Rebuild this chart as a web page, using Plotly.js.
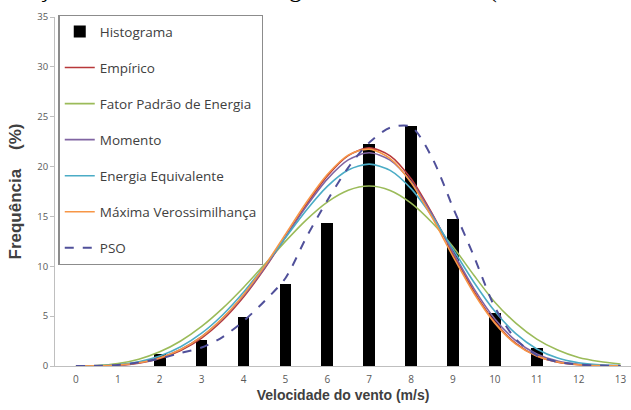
<!DOCTYPE html>
<html>
<head>
<meta charset="utf-8">
<script src="https://cdn.plot.ly/plotly-3.0.1.min.js"></script>
<style>
html,body{margin:0;padding:0;background:#fff;}
#chart{width:631px;height:410px;}
</style>
</head>
<body>
<div id="chart"></div>
<script>
// Wind speed categories (m/s)
const speeds = [0,1,2,3,4,5,6,7,8,9,10,11,12,13];
// Histogram frequencies (%)
const histograma = [0,0,1.2,2.6,4.9,8.2,14.3,22.3,24.1,14.7,5.3,1.8,0,0];

// Curve sample positions (m/s)
const xc = [0,0.5,1,1.5,2,2.5,3,3.5,4,4.5,5,5.5,6,6.5,7,7.5,8,8.5,9,9.5,10,10.5,11,11.5,12,12.5,13];
// Fitted distributions (%)
const empirico = [0,0.01,0.08,0.29,0.75,1.56,2.81,4.59,6.92,9.75,12.93,16.17,19.05,21.1,21.87,21.08,18.77,15.3,11.31,7.49,4.4,2.26,1.0,0.38,0.12,0.03,0.01];
const fatorPadrao = [0,0.04,0.24,0.68,1.42,2.51,3.97,5.78,7.88,10.17,12.5,14.66,16.44,17.63,18.05,17.61,16.34,14.39,11.97,9.1,6.4,4.3,2.7,1.6,0.85,0.45,0.2];
const momento = [0,0.01,0.09,0.33,0.82,1.67,2.95,4.75,7.06,9.83,12.91,16.01,18.74,20.67,21.38,20.64,18.48,15.22,11.43,7.76,4.72,2.55,1.21,0.51,0.18,0.06,0.02];
const energiaEquiv = [0,0.02,0.13,0.42,1.0,1.93,3.29,5.12,7.39,10.03,12.86,15.63,18.02,19.66,20.25,19.62,17.79,15.02,11.72,8.4,5.48,3.24,1.71,0.8,0.33,0.12,0.04];
const maxVeross = [0,0.01,0.09,0.32,0.8,1.65,2.95,4.8,7.15,10.0,13.2,16.4,19.2,21.15,21.75,20.8,18.4,14.9,11.0,7.3,4.3,2.2,1.0,0.4,0.13,0.04,0.01];
const pso = [0,0.02,0.1,0.35,0.75,1.3,1.85,2.9,4.5,6.5,8.8,12.9,16.6,19.9,22.4,23.9,24.0,20.9,15.9,11.0,5.9,2.7,1.1,0.4,0.15,0.05,0.01];

const seriesNames = ['Histograma','Empírico','Fator Padrão de Energia','Momento','Energia Equivalente','Máxima Verossimilhança','PSO'];
const curveData = [empirico, fatorPadrao, momento, energiaEquiv, maxVeross, pso];
const curveColors = ['#B8383A','#9BBB59','#8064A2','#4BACC6','#F79646','#50509A'];
const curveDash = ['solid','solid','solid','solid','solid','dash'];

const traces = [{
  type:'bar', x:speeds, y:histograma, name:seriesNames[0],
  width:0.28, marker:{color:'#000000'}, legendgroup:'g0'
}];
curveData.forEach((d,i)=>{
  traces.push({
    type:'scatter', mode:'lines', x:xc, y:d, name:seriesNames[i+1],
    line:{color:curveColors[i], width:(i===5?2:1.6), dash:curveDash[i], shape:'spline', smoothing:0.8},
    legendgroup:'g'+(i+1)
  });
});

const layout = {
  width:631, height:410,
  margin:{l:55, r:0, t:17, b:44, pad:0},
  paper_bgcolor:'#ffffff', plot_bgcolor:'#ffffff',
  font:{family:'"Open Sans", sans-serif', color:'#595959'},
  showlegend:true,
  legend:{
    x:0.006, y:1.006, xanchor:'left', yanchor:'top',
    bgcolor:'#ffffff', bordercolor:'#8c8c8c', borderwidth:1.3,
    font:{family:'"Open Sans", sans-serif', size:13.5, color:'#404040'},
    tracegroupgap:15.5, traceorder:'grouped', itemwidth:30, maxheight:390
  },
  bargap:0,
  xaxis:{
    range:[-0.5,13.25], tickmode:'array', tickvals:speeds, ticktext:speeds.map(String),
    showline:true, linecolor:'#bfbfbf', linewidth:1,
    ticks:'outside', ticklen:4, tickcolor:'rgba(0,0,0,0)',
    showgrid:false, zeroline:false,
    tickfont:{size:10, color:'#595959'},
    title:{text:'Velocidade do vento (m/s)', font:{family:'"Liberation Sans", Arial, sans-serif', size:14, color:'#404040', weight:'bold'}, standoff:5}
  },
  yaxis:{
    range:[0,35], dtick:5, tick0:0,
    showline:true, linecolor:'#bfbfbf', linewidth:1,
    ticks:'outside', ticklen:4, tickcolor:'#bfbfbf',
    showgrid:false, zeroline:false,
    tickfont:{size:9.5, color:'#595959'},
    title:{text:'Frequência\u00a0\u00a0\u00a0\u00a0(%)', font:{family:'"Liberation Sans", Arial, sans-serif', size:17, color:'#404040', weight:'bold'}, standoff:11}
  },
  annotations:[{
    xref:'paper', yref:'paper', x:-0.1875, y:1.034, xanchor:'left', yanchor:'bottom',
    text:'Distribuição de velocidade e histograma em Mossoró (valores de referência)',
    showarrow:false, font:{family:'"Liberation Serif", serif', size:25, color:'#000000'}
  }]
};

Plotly.newPlot('chart', traces, layout, {displayModeBar:false, staticPlot:true});
</script>
</body>
</html>
